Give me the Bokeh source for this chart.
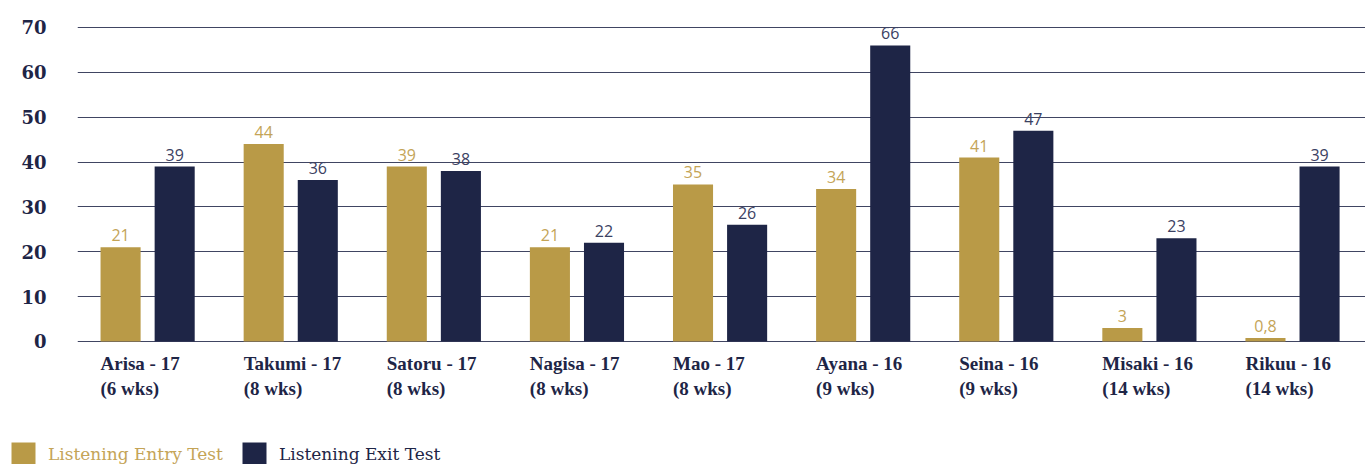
from bokeh.plotting import figure
from bokeh.models import ColumnDataSource, FactorRange, Range1d, FixedTicker, Legend, LegendItem
from bokeh.transform import dodge
from bokeh.core.properties import value
from bokeh.embed import file_html
from bokeh.resources import INLINE

students = ["Arisa", "Takumi", "Satoru", "Nagisa", "Mao", "Ayana", "Seina", "Misaki", "Rikuu"]
ages = [17, 17, 17, 17, 17, 16, 16, 16, 16]
weeks = [6, 8, 8, 8, 8, 9, 9, 14, 14]
entry_scores = [21, 44, 39, 21, 35, 34, 41, 3, 0.8]
exit_scores = [39, 36, 38, 22, 26, 66, 47, 23, 39]
y_ticks = [0, 10, 20, 30, 40, 50, 60, 70]
series_names = ["Listening Entry Test", "Listening Exit Test"]

GOLD = "#B99A47"
NAVY = "#1E2546"
GOLD_TXT = "#C4A457"
NAVY_TXT = "#3B4162"


def fmt(v):
    return str(int(v)) if float(v).is_integer() else str(v).replace(".", ",")


cats = [f"{s} - {a}" for s, a in zip(students, ages)]
src = ColumnDataSource(dict(
    cat=cats,
    label=[f"{c}\n({w} wks)" for c, w in zip(cats, weeks)],
    entry=entry_scores,
    exit=exit_scores,
    entry_txt=[fmt(v) for v in entry_scores],
    exit_txt=[fmt(v) for v in exit_scores],
))

p = figure(
    width=1365, height=408,
    x_range=FactorRange(factors=cats, range_padding=0),
    y_range=Range1d(-14.94, 72.0),
    x_axis_location=None,
    output_backend="svg", toolbar_location=None,
    min_border_left=77, min_border_right=0, min_border_top=18, min_border_bottom=0,
)
p.outline_line_color = None
p.background_fill_color = "white"
p.border_fill_color = "white"

# grid
p.xgrid.visible = False
p.ygrid.ticker = FixedTicker(ticks=y_ticks)
p.ygrid.grid_line_color = NAVY
p.ygrid.grid_line_alpha = 0.85
p.ygrid.grid_line_width = 1.2

# y axis
p.yaxis.ticker = FixedTicker(ticks=y_ticks)
p.yaxis.axis_line_color = None
p.yaxis.major_tick_line_color = None
p.yaxis.minor_tick_line_color = None
p.yaxis.major_label_standoff = 25
p.yaxis.major_label_text_font = "DejaVu Serif"
p.yaxis.major_label_text_font_style = "bold"
p.yaxis.major_label_text_font_size = "18px"
p.yaxis.major_label_text_color = NAVY

W = 0.28
OFF = 0.189
SH = 0.01
p.vbar(x=dodge("cat", -OFF - SH, range=p.x_range), top="entry", bottom=0, width=W,
       source=src, fill_color=GOLD, line_color=None)
p.vbar(x=dodge("cat", OFF - SH, range=p.x_range), top="exit", bottom=0, width=W,
       source=src, fill_color=NAVY, line_color=None)

# value labels
p.text(x=dodge("cat", -OFF - SH, range=p.x_range), y="entry", text="entry_txt", source=src,
       text_align="center", text_baseline="bottom", y_offset=-6,
       text_font=value("Open Sans"), text_font_size="16px", text_color=GOLD_TXT)
p.text(x=dodge("cat", OFF - SH, range=p.x_range), y="exit", text="exit_txt", source=src,
       text_align="center", text_baseline="bottom", y_offset=-6,
       text_font=value("Open Sans"), text_font_size="16px", text_color=NAVY_TXT)

# category labels
p.text(x=dodge("cat", -OFF - SH - W / 2, range=p.x_range), y=0, text="label", source=src,
       text_align="left", text_baseline="top", y_offset=12,
       text_font=value("Liberation Serif"), text_font_style="bold", text_font_size="19px",
       text_line_height=1.15, text_color=NAVY)

# legend strip: separate root figure whose frame spans the whole width
lf = figure(
    width=1365, height=56,
    x_range=Range1d(0, 1), y_range=Range1d(0, 1),
    x_axis_location=None, y_axis_location=None,
    output_backend="svg", toolbar_location=None,
    min_border=0,
)
lf.outline_line_color = None
lf.grid.visible = False
lf.background_fill_color = "white"
lf.border_fill_color = "white"
hidden = ColumnDataSource(dict(x=[-5], top=[-5]))
d_entry = lf.vbar(x="x", top="top", bottom=-6, width=0.1, source=hidden, fill_color=GOLD, line_color=None)
d_exit = lf.vbar(x="x", top="top", bottom=-6, width=0.1, source=hidden, fill_color=NAVY, line_color=None)

leg1 = Legend(items=[LegendItem(label=series_names[0], renderers=[d_entry])],
              location=(8, -5), orientation="horizontal")
leg2 = Legend(items=[LegendItem(label=series_names[1], renderers=[d_exit])],
              location=(239, -5), orientation="horizontal")
for lg, col in ((leg1, GOLD_TXT), (leg2, NAVY)):
    lg.glyph_width = 30
    lg.glyph_height = 30
    lg.label_height = 30
    lg.label_standoff = 10
    lg.padding = 0
    lg.margin = 0
    lg.spacing = 0
    lg.border_line_color = None
    lg.background_fill_alpha = 0
    lg.label_text_font = "DejaVu Serif"
    lg.label_text_font_size = "17px"
    lg.label_text_color = col
    lf.add_layout(lg)

open("out.html", "w").write(file_html([p, lf], INLINE))
